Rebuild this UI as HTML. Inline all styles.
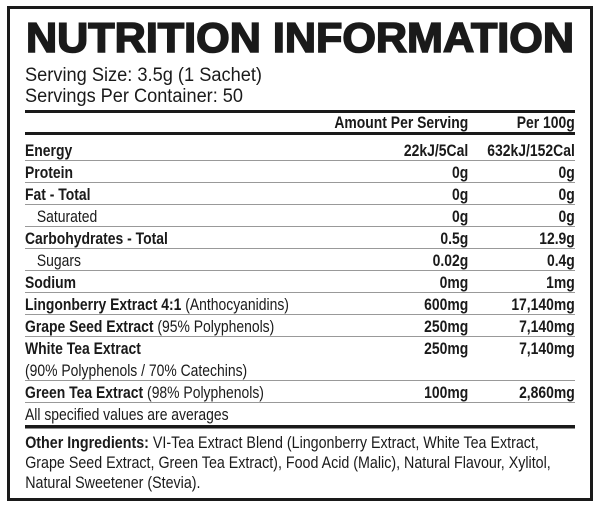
<!DOCTYPE html>
<html><head><meta charset="utf-8"><style>
html,body{margin:0;padding:0;background:#fff;}
svg{display:block;}
text{font-family:"Liberation Sans",sans-serif;fill:#1a1a1a;}
.b{font-weight:bold;}
</style></head><body>
<svg width="600" height="508" viewBox="0 0 600 508" xmlns="http://www.w3.org/2000/svg">
<rect x="8.5" y="7.5" width="583" height="492" fill="none" stroke="#1a1a1a" stroke-width="3"/>
<text x="26" y="52" class="b" font-size="42" textLength="548" lengthAdjust="spacingAndGlyphs" stroke="#1a1a1a" stroke-width="1.6">NUTRITION INFORMATION</text>
<text x="25" y="81" font-size="19" textLength="237" lengthAdjust="spacingAndGlyphs">Serving Size: 3.5g (1 Sachet)</text>
<text x="25" y="102" font-size="19" textLength="218" lengthAdjust="spacingAndGlyphs">Servings Per Container: 50</text>
<rect x="25" y="110" width="550" height="3" fill="#1a1a1a"/>
<rect x="25" y="132" width="550" height="3" fill="#1a1a1a"/>
<rect x="25" y="425" width="550" height="3.5" fill="#1a1a1a"/>
<g fill="#999">
<rect x="25" y="160" width="550" height="1"/><rect x="25" y="182" width="550" height="1"/>
<rect x="25" y="204" width="550" height="1"/><rect x="25" y="226" width="550" height="1"/>
<rect x="25" y="248" width="550" height="1"/><rect x="25" y="270" width="550" height="1"/>
<rect x="25" y="292" width="550" height="1"/><rect x="25" y="314" width="550" height="1"/>
<rect x="25" y="336" width="550" height="1"/><rect x="25" y="380" width="550" height="1"/>
<rect x="25" y="402" width="550" height="1"/>
</g>
<g transform="scale(0.82 1)" font-size="17">
<text class="b" x="571" y="128" text-anchor="end">Amount Per Serving</text>
<text class="b" x="701" y="128" text-anchor="end">Per 100g</text>

<text class="b" x="30.5" y="156">Energy</text>
<text class="b" x="571" y="156" text-anchor="end">22kJ/5Cal</text>
<text class="b" x="701" y="156" text-anchor="end">632kJ/152Cal</text>

<text class="b" x="30.5" y="178">Protein</text>
<text class="b" x="571" y="178" text-anchor="end">0g</text>
<text class="b" x="701" y="178" text-anchor="end">0g</text>

<text class="b" x="30.5" y="200">Fat - Total</text>
<text class="b" x="571" y="200" text-anchor="end">0g</text>
<text class="b" x="701" y="200" text-anchor="end">0g</text>

<text x="45" y="222">Saturated</text>
<text class="b" x="571" y="222" text-anchor="end">0g</text>
<text class="b" x="701" y="222" text-anchor="end">0g</text>

<text class="b" x="30.5" y="244">Carbohydrates - Total</text>
<text class="b" x="571" y="244" text-anchor="end">0.5g</text>
<text class="b" x="701" y="244" text-anchor="end">12.9g</text>

<text x="45" y="266">Sugars</text>
<text class="b" x="571" y="266" text-anchor="end">0.02g</text>
<text class="b" x="701" y="266" text-anchor="end">0.4g</text>

<text class="b" x="30.5" y="288">Sodium</text>
<text class="b" x="571" y="288" text-anchor="end">0mg</text>
<text class="b" x="701" y="288" text-anchor="end">1mg</text>

<text x="30.5" y="310"><tspan class="b">Lingonberry Extract 4:1</tspan> (Anthocyanidins)</text>
<text class="b" x="571" y="310" text-anchor="end">600mg</text>
<text class="b" x="701" y="310" text-anchor="end">17,140mg</text>

<text x="30.5" y="332"><tspan class="b">Grape Seed Extract</tspan> (95% Polyphenols)</text>
<text class="b" x="571" y="332" text-anchor="end">250mg</text>
<text class="b" x="701" y="332" text-anchor="end">7,140mg</text>

<text class="b" x="30.5" y="354">White Tea Extract</text>
<text class="b" x="571" y="354" text-anchor="end">250mg</text>
<text class="b" x="701" y="354" text-anchor="end">7,140mg</text>
<text x="30.5" y="376">(90% Polyphenols / 70% Catechins)</text>

<text x="30.5" y="398"><tspan class="b">Green Tea Extract</tspan> (98% Polyphenols)</text>
<text class="b" x="571" y="398" text-anchor="end">100mg</text>
<text class="b" x="701" y="398" text-anchor="end">2,860mg</text>

<text x="30.5" y="420">All specified values are averages</text>
</g>
<g transform="scale(0.84 1)" font-size="17">
<text x="30" y="448"><tspan class="b">Other Ingredients:</tspan> VI-Tea Extract Blend (Lingonberry Extract, White Tea Extract,</text>
<text x="30" y="468">Grape Seed Extract, Green Tea Extract), Food Acid (Malic), Natural Flavour, Xylitol,</text>
<text x="30" y="488">Natural Sweetener (Stevia).</text>
</g>
</svg>
</body></html>
